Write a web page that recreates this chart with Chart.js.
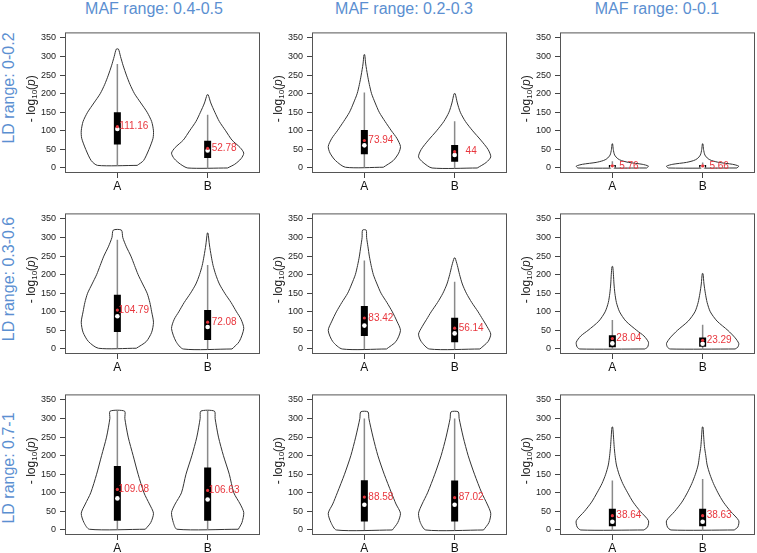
<!DOCTYPE html>
<html lang="en">
<head>
<meta charset="UTF-8">
<title>Violin plots by LD and MAF range</title>
<script src="https://cdn.jsdelivr.net/npm/chart.js"></script>
<style>
  body { margin: 0; background: #fff; }
  #figure { position: relative; width: 757px; height: 553px; overflow: hidden;
            font-family: Arial, "Liberation Sans", sans-serif; }
  #figure canvas { position: absolute; }
  .col-title { position: absolute; top: 0; width: 200px; text-align: center;
               font-size: 16px; line-height: 18px; color: #5b8fd1; }
  .row-title { position: absolute; width: 160px; height: 18px; text-align: center;
               font-size: 16px; line-height: 18px; color: #5b8fd1; transform: rotate(-90deg); }
</style>
</head>
<body>
<div id="figure"></div>
<script>
const groups = ['A', 'B'];
const mafLabels = ['MAF range: 0.4-0.5', 'MAF range: 0.2-0.3', 'MAF range: 0-0.1'];
const ldLabels = ['LD range: 0-0.2', 'LD range: 0.3-0.6', 'LD range: 0.7-1'];
const yTicks = [0, 50, 100, 150, 200, 250, 300, 350];

// one entry per panel (row by row), each [A, B]
const means     = [[111.16, 52.78], [73.94, 44], [5.76, 5.66],
                   [104.79, 72.08], [83.42, 56.14], [28.04, 23.29],
                   [109.08, 106.63], [88.58, 87.02], [38.64, 38.63]];
const medians   = [[105, 47], [61, 35], [3, 3], [88, 59], [63, 42], [15, 14], [85, 82], [68, 68], [22, 22]];
const q1s       = [[63, 27], [37, 17], [1, 1], [46, 24], [35, 18], [5, 6], [25, 25], [23, 23], [10, 10]];
const q3s       = [[150, 73], [102, 62], [8, 8], [146, 105], [116, 84], [37, 31], [172, 168], [134, 133], [57, 57]];
const whiskLo   = [[7, 0], [2, 0], [0, 0], [2, 0], [0, 0], [0, 0], [2, 2], [0, 0], [0, 0]];
const whiskHi   = [[280, 143], [203, 126], [18, 15], [294, 226], [238, 181], [78, 65], [320, 320], [300, 300], [133, 137]];

// violin outlines: [value, half width] from bottom to top
const shapesRow1 = [
  [[[7,.22],[20,.29],[50,.35],[80,.395],[100,.40],[125,.38],[150,.33],[175,.26],[200,.19],[225,.14],[250,.10],[275,.065],[300,.035],[320,.012]],
   [[0,.22],[10,.30],[25,.37],[40,.40],[55,.36],[75,.27],[100,.20],[125,.13],[150,.08],[175,.035],[197,.006]]],
  [[[2,.21],[20,.32],[40,.38],[58,.40],[80,.36],[100,.30],[125,.23],[150,.165],[175,.12],[200,.08],[225,.055],[250,.035],[280,.015],[305,.004]],
   [[0,.25],[15,.35],[30,.40],[50,.37],[75,.29],[100,.20],[125,.12],[150,.063],[175,.03],[200,.006]]],
  [[[0,.38],[5,.40],[10,.33],[15,.18],[20,.10],[25,.06],[35,.025],[50,.01],[65,.003]],
   [[0,.38],[5,.40],[10,.33],[15,.18],[20,.10],[25,.06],[35,.025],[50,.01],[65,.003]]]
];
const shapesRow2 = [
  [[[2,.21],[20,.32],[45,.38],[72,.40],[100,.38],[125,.36],[150,.33],[175,.28],[200,.23],[225,.19],[250,.15],[275,.10],[300,.06],[320,.045]],
   [[0,.27],[20,.35],[55,.40],[80,.37],[100,.32],[125,.26],[150,.19],[175,.13],[200,.09],[225,.06],[250,.04],[280,.02],[312,.004]]],
  [[[0,.245],[20,.35],[50,.40],[75,.36],[100,.31],[125,.25],[150,.185],[175,.14],[200,.10],[225,.075],[250,.055],[275,.04],[300,.025],[320,.02]],
   [[0,.28],[20,.37],[40,.40],[60,.36],[80,.31],[100,.26],[125,.19],[150,.13],[175,.085],[200,.055],[225,.03],[245,.005]]],
  [[[0,.36],[5,.39],[18,.40],[35,.35],[50,.27],[75,.15],[100,.08],[125,.045],[150,.028],[175,.018],[200,.012],[222,.004]],
   [[0,.36],[5,.39],[15,.40],[30,.36],[50,.28],[75,.16],[100,.085],[125,.05],[150,.03],[175,.015],[203,.004]]]
];
const shapesRow3 = [
  [[[2,.31],[20,.37],[45,.40],[70,.355],[100,.295],[150,.23],[200,.175],[250,.12],[300,.083],[320,.08]],
   [[2,.34],[20,.38],[47,.40],[70,.36],[100,.29],[150,.24],[200,.175],[250,.12],[300,.083],[320,.075]]],
  [[[0,.31],[20,.37],[45,.40],[70,.35],[100,.30],[150,.22],[200,.15],[250,.096],[300,.05],[318,.04]],
   [[0,.32],[20,.38],[45,.40],[70,.36],[100,.30],[150,.22],[200,.15],[250,.095],[300,.05],[318,.04]]],
  [[[0,.35],[8,.39],[25,.40],[50,.31],[75,.23],[100,.17],[125,.115],[150,.074],[175,.045],[200,.03],[225,.02],[250,.013],[277,.004]],
   [[0,.35],[8,.39],[25,.40],[50,.31],[75,.23],[100,.17],[125,.12],[150,.08],[175,.05],[200,.035],[225,.02],[250,.012],[277,.004]]]
];
const shapes = shapesRow1.concat(shapesRow2, shapesRow3);

// layout of the plot boxes (px)
const plotLefts = [65, 312, 560];
const plotTops = [27, 208, 389];
const plotW = 195, plotH = 146;
const axisW = 46, axisH = 24, padT = 4, padR = 4;
const colTitleX = [154, 404, 657];
const rowTitleY = [88, 279, 468];

const FONT = 'Arial, "Liberation Sans", sans-serif';
const RED = '#e8363d';
const fig = document.getElementById('figure');

mafLabels.forEach((t, i) => {
  const d = document.createElement('div');
  d.className = 'col-title';
  d.textContent = t;
  d.style.left = (colTitleX[i] - 100) + 'px';
  fig.appendChild(d);
});
ldLabels.forEach((t, i) => {
  const d = document.createElement('div');
  d.className = 'row-title';
  d.textContent = t;
  d.style.left = (9 - 80) + 'px';
  d.style.top = (rowTitleY[i] - 9) + 'px';
  fig.appendChild(d);
});

// box round the plot area
const framePlugin = {
  id: 'frame',
  afterDraw(chart) {
    const a = chart.chartArea, ctx = chart.ctx;
    ctx.save();
    ctx.strokeStyle = '#555';
    ctx.lineWidth = 1;
    ctx.strokeRect(a.left + 0.5, a.top + 0.5, a.right - a.left - 1, a.bottom - a.top - 1);
    ctx.restore();
  }
};

// -log10(p) with subscript and italic p
const yTitlePlugin = {
  id: 'yTitle',
  afterDraw(chart) {
    const a = chart.chartArea, ctx = chart.ctx;
    const parts = [
      { t: '- log', f: '12px ' + FONT, dy: 0 },
      { t: '10', f: '8px ' + FONT, dy: 3 },
      { t: '(', f: '12px ' + FONT, dy: 0 },
      { t: 'p', f: 'italic 12px ' + FONT, dy: 0 },
      { t: ')', f: '12px ' + FONT, dy: 0 }
    ];
    ctx.save();
    let total = 0;
    parts.forEach(p => { ctx.font = p.f; p.w = ctx.measureText(p.t).width; total += p.w; });
    ctx.translate(a.left - 33, (a.top + a.bottom) / 2 - 4);
    ctx.rotate(-Math.PI / 2);
    ctx.fillStyle = '#222';
    ctx.textBaseline = 'middle';
    let x = -total / 2;
    parts.forEach(p => { ctx.font = p.f; ctx.fillText(p.t, x, p.dy); x += p.w; });
    ctx.restore();
  }
};

// mean value printed next to each violin
const meanLabelPlugin = {
  id: 'meanLabels',
  afterDatasetsDraw(chart, args, opts) {
    const ctx = chart.ctx, xs = chart.scales.x, ys = chart.scales.y;
    ctx.save();
    ctx.font = '10px ' + FONT;
    ctx.fillStyle = RED;
    ctx.textAlign = 'center';
    ctx.textBaseline = 'middle';
    means[opts.panel].forEach((m, g) => {
      ctx.fillText(String(m), xs.getPixelForValue(g + 1 + 0.183), ys.getPixelForValue(m));
    });
    ctx.restore();
  }
};

function violinPoints(shape, gx) {
  const right = shape.map(([y, w]) => ({ x: gx + w, y: y }));
  const left = shape.slice().reverse().map(([y, w]) => ({ x: gx - w, y: y }));
  return right.concat(left, [right[0]]);
}

for (let r = 0; r < 3; r++) {
  for (let c = 0; c < 3; c++) {
    const p = r * 3 + c;
    const canvas = document.createElement('canvas');
    canvas.width = axisW + plotW + padR;
    canvas.height = padT + plotH + axisH;
    canvas.style.left = (plotLefts[c] - axisW) + 'px';
    canvas.style.top = (plotTops[r] - padT) + 'px';
    fig.appendChild(canvas);

    const datasets = [];
    groups.forEach((g, i) => {
      const gx = i + 1;
      datasets.push({
        data: violinPoints(shapes[p][i], gx), borderColor: '#333', borderWidth: 1,
        pointRadius: 0, tension: 0.25, fill: false, order: 5
      });
      datasets.push({
        data: [{ x: gx, y: whiskLo[p][i] }, { x: gx, y: whiskHi[p][i] }],
        borderColor: '#8a8a8a', borderWidth: 1.5, pointRadius: 0, order: 4
      });
      datasets.push({
        data: [{ x: gx, y: q1s[p][i] }, { x: gx, y: q3s[p][i] }],
        borderColor: '#000', borderWidth: 7, borderCapStyle: 'butt', pointRadius: 0, order: 3
      });
    });
    datasets.push({
      data: groups.map((g, i) => ({ x: i + 1, y: medians[p][i] })),
      showLine: false, pointRadius: 2.3, pointBackgroundColor: '#fff', pointBorderWidth: 0, order: 2
    });
    datasets.push({
      data: groups.map((g, i) => ({ x: i + 1, y: means[p][i] })),
      showLine: false, pointRadius: 1.6, pointBackgroundColor: RED, pointBorderWidth: 0, order: 1
    });

    new Chart(canvas, {
      type: 'line',
      data: { datasets: datasets },
      options: {
        responsive: false,
        animation: false,
        events: [],
        layout: { padding: { top: padT, right: padR, left: 0, bottom: 0 } },
        plugins: {
          legend: { display: false },
          tooltip: { enabled: false },
          meanLabels: { panel: p }
        },
        scales: {
          x: {
            type: 'linear', min: 0.42, max: 2.58,
            afterBuildTicks: s => { s.ticks = groups.map((g, i) => ({ value: i + 1 })); },
            afterFit: s => { s.height = axisH; },
            ticks: {
              callback: (v, i) => groups[i], autoSkip: false, maxRotation: 0,
              font: { size: 12, family: FONT }, color: '#111', padding: 1
            },
            grid: { drawOnChartArea: false, tickLength: 5, color: '#444' },
            border: { display: false }
          },
          y: {
            type: 'linear', min: -13.5, max: 365,
            afterBuildTicks: s => { s.ticks = yTicks.map(v => ({ value: v })); },
            afterFit: s => { s.width = axisW; },
            ticks: { font: { size: 9, family: FONT }, color: '#222', padding: 4 },
            grid: { drawOnChartArea: false, tickLength: 5, color: '#444' },
            border: { display: false }
          }
        }
      },
      plugins: [framePlugin, yTitlePlugin, meanLabelPlugin]
    });
  }
}
</script>
</body>
</html>
